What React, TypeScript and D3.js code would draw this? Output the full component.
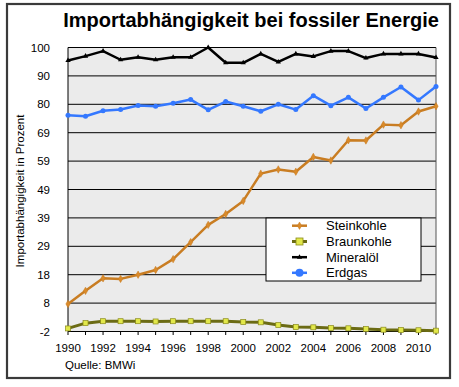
import React from "react";
import * as d3 from "d3";

const years = d3.range(1990, 2012);
const xTickYears = [1990, 1992, 1994, 1996, 1998, 2000, 2002, 2004, 2006, 2008, 2010];
const yTicks = d3.range(0, 11).map((i) => -2 + i * 10.2);

const steinkohle = [7.9, 12.6, 17.1, 16.9, 18.4, 20.1, 24.0, 30.1, 36.3, 40.2, 44.9, 54.7, 56.2, 55.4, 60.7, 59.4, 66.7, 66.6, 72.3, 72.1, 77.0, 78.9];
const braunkohle = [-0.9, 1.0, 1.7, 1.7, 1.7, 1.6, 1.7, 1.7, 1.7, 1.7, 1.4, 1.3, 0.3, -0.4, -0.5, -0.75, -0.85, -1.1, -1.35, -1.45, -1.55, -1.7];
const mineraloel = [95.3, 96.9, 98.7, 95.6, 96.5, 95.6, 96.5, 96.5, 100, 94.5, 94.5, 97.7, 94.8, 97.7, 96.8, 98.7, 98.7, 96.2, 97.7, 97.7, 97.7, 96.4];
const erdgas = [75.7, 75.3, 77.3, 77.7, 79.2, 78.9, 80.0, 81.3, 77.6, 80.6, 78.9, 77.1, 79.6, 77.7, 82.7, 79.1, 82.1, 78.1, 82.1, 85.8, 81.1, 86.0];

const seriesNames = ["Steinkohle", "Braunkohle", "Mineralöl", "Erdgas"];

const FONT = "'Liberation Sans', Arial, Helvetica, sans-serif";

export default function App() {
  const left = 68, right = 436, top = 47.5, bottom = 331.5;
  const x = d3.scaleLinear().domain([1990, 2011]).range([left, right]);
  const y = d3.scaleLinear().domain([-2, 100]).range([bottom, top]);

  const series = [
    { name: seriesNames[0], data: steinkohle, color: "#c97d22", width: 2.5, marker: "diamond", fill: "#d98a2a", stroke: "#c97d22" },
    { name: seriesNames[1], data: braunkohle, color: "#6b6b14", width: 3, marker: "square", fill: "#e2e84a", stroke: "#8a8a1a" },
    { name: seriesNames[2], data: mineraloel, color: "#000000", width: 2.5, marker: "triangle", fill: "#000", stroke: "#000" },
    { name: seriesNames[3], data: erdgas, color: "#3478ff", width: 2.5, marker: "circle", fill: "#3478ff", stroke: "#3478ff" },
  ];

  const line = (data: number[]) =>
    d3.line<number>().x((_, i) => x(years[i])).y((d) => y(d))(data) || "";

  const marker = (type: string, cx: number, cy: number, fill: string, stroke: string, key: any) => {
    if (type === "diamond") {
      const p = d3.symbol().type(d3.symbolDiamond).size(16)() || "";
      return <path key={key} d={p} transform={`translate(${cx},${cy})`} fill={fill} stroke={stroke} strokeWidth={0.5} />;
    }
    if (type === "square") {
      return <rect key={key} x={cx - 2.5} y={cy - 2.5} width={5} height={5} fill={fill} stroke={stroke} strokeWidth={0.7} />;
    }
    if (type === "triangle") {
      const p = d3.symbol().type(d3.symbolTriangle).size(12)() || "";
      return <path key={key} d={p} transform={`translate(${cx},${cy})`} fill={fill} />;
    }
    return <circle key={key} cx={cx} cy={cy} r={2.5} fill={fill} />;
  };

  const legendX = 266, legendY = 218, legendW = 155, legendH = 63;
  const legendRows = [225.7, 241.5, 257.2, 272.8];

  return (
    <svg width={459} height={387} style={{ position: "absolute", left: 0, top: 0, background: "#fff" }} fontFamily={FONT}>
      <rect x={0} y={0} width={459} height={387} fill="#fff" />
      {/* outer frame */}
      <rect x={7} y={4} width={443} height={374} fill="none" stroke="#3a3a3a" strokeWidth={2.2} />
      {/* title */}
      <text x={251} y={27} textAnchor="middle" fontSize={20} fontWeight="bold" fill="#000">
        Importabhängigkeit bei fossiler Energie
      </text>
      {/* plot background */}
      <rect x={left} y={top} width={right - left} height={bottom - top} fill="#ebebeb" />
      {/* gridlines */}
      {yTicks.map((t, i) => (
        <line key={i} x1={left} x2={right} y1={y(t)} y2={y(t)} stroke="#000" strokeWidth={1} />
      ))}
      <line x1={left} x2={left} y1={top} y2={bottom} stroke="#000" strokeWidth={1} />
      <line x1={right} x2={right} y1={top} y2={bottom} stroke="#555" strokeWidth={1} />
      {/* x ticks */}
      {years.map((yr) => (
        <line key={yr} x1={x(yr)} x2={x(yr)} y1={bottom} y2={bottom + 3.5} stroke="#000" strokeWidth={1} />
      ))}
      {/* y labels */}
      {yTicks.map((t, i) => (
        <text key={i} x={50} y={y(t) + 4} textAnchor="end" fontSize={11.5} fill="#000">
          {Math.round(t)}
        </text>
      ))}
      {/* x labels */}
      {xTickYears.map((yr) => (
        <text key={yr} x={x(yr)} y={352} textAnchor="middle" fontSize={11.5} fill="#000">
          {yr}
        </text>
      ))}
      {/* y axis title */}
      <text transform={`translate(24,191) rotate(-90)`} textAnchor="middle" fontSize={11.5} fill="#000">
        Importabhängigkeit in Prozent
      </text>
      <text x={65} y={369} fontSize={11.5} fill="#000">Quelle: BMWi</text>
      {/* lines */}
      {series.map((s) => (
        <g key={s.name}>
          <path d={line(s.data)} fill="none" stroke={s.color} strokeWidth={s.width} strokeLinejoin="round" />
          {s.data.map((v, i) => marker(s.marker, x(years[i]), y(v), s.fill, s.stroke, i))}
        </g>
      ))}
      {/* legend */}
      <rect x={legendX} y={legendY} width={legendW} height={legendH} fill="#fff" stroke="#000" strokeWidth={1} />
      {series.map((s, i) => (
        <g key={s.name}>
          <line x1={292} x2={307} y1={legendRows[i]} y2={legendRows[i]} stroke={s.color} strokeWidth={s.width} />
          {s.marker === "circle" ? (
            <circle cx={299.5} cy={legendRows[i]} r={4} fill={s.fill} />
          ) : s.marker === "square" ? (
            <rect x={296} y={legendRows[i] - 3.5} width={7} height={7} fill={s.fill} stroke={s.stroke} strokeWidth={0.8} />
          ) : (
            marker(s.marker, 299.5, legendRows[i], s.fill, s.stroke, "m")
          )}
          <text x={326} y={legendRows[i] + 4.5} fontSize={13} fill="#000">{s.name}</text>
        </g>
      ))}
    </svg>
  );
}
